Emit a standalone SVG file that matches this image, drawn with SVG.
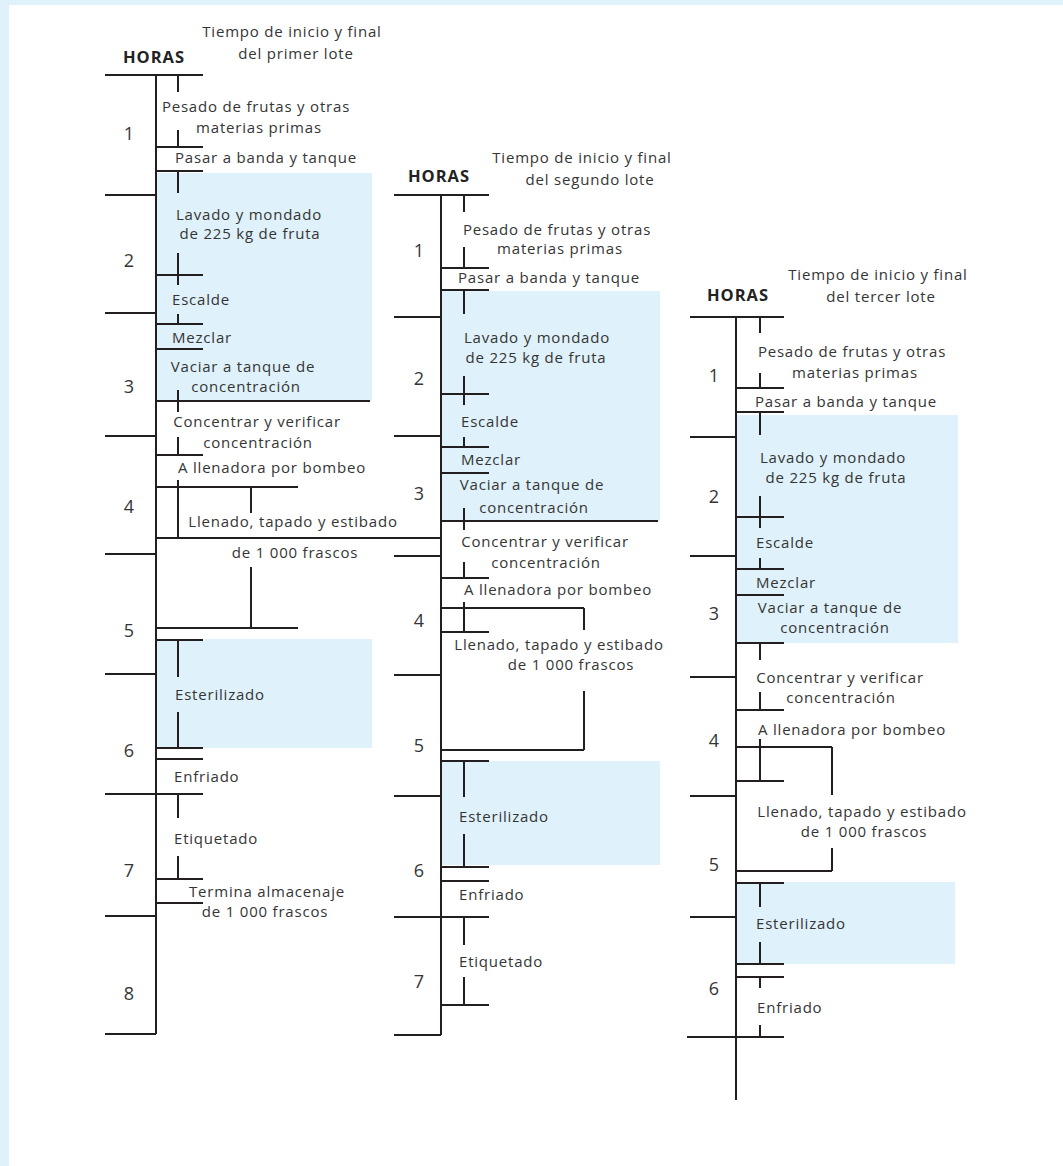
<svg xmlns="http://www.w3.org/2000/svg" width="1063" height="1166" viewBox="0 0 1063 1166">
<style>
.ln{stroke:#231f20;stroke-width:2;fill:none}
.bx{fill:#dff1fa}
text{font-family:"Open Sans","Noto Sans",sans-serif;fill:#353535;font-size:15px;letter-spacing:0.8px}
.c{text-anchor:middle}
.h{font-weight:bold;font-size:16.5px;letter-spacing:1px;fill:#222;text-anchor:middle}
.n{font-size:18px;letter-spacing:0;text-anchor:middle}
</style>
<rect x="0" y="0" width="1063" height="1166" fill="#ffffff"/>
<rect x="0" y="0" width="1063" height="5" class="bx"/>
<rect x="0" y="0" width="9" height="1166" class="bx"/>
<g id="shading">
<rect class="bx" x="156" y="173" width="216" height="228"/>
<rect class="bx" x="156" y="639" width="216" height="109"/>
<rect class="bx" x="441" y="291" width="219" height="230"/>
<rect class="bx" x="441" y="761" width="219" height="104"/>
<rect class="bx" x="736" y="415" width="222" height="228"/>
<rect class="bx" x="736" y="882" width="219" height="82"/>
</g>
<g id="connectors" class="ln">
<path d="M105 75H203M156 75V1034M105 1034H156"/>
<path d="M178 75V92M178 130V147M178 171V193M178 253V285M178 314V324M178 390V412M178 437V455M178 480V538M178 640V677M178 712V748M178 794V818M178 856V879"/>
<path d="M156 147H203M156 171H203M156 275H203M156 324H203M156 349H203M156 455H203M156 640H203M156 748H203M156 759H203M156 879H203M156 903H203"/>
<path d="M156 401H370M156 487H298M156 628H298M251 487V513M251 567V628M156 538H441"/>
<path d="M105 195H156M105 313H156M105 436H156M105 554H156M105 674H156M105 794H203M105 916H156"/>
<path d="M394 195H489M441 195V1035M394 1035H441"/>
<path d="M464 195V212M464 247V268M464 290V314M464 376V405M464 437V447M464 508V530M464 562V578M464 602V632M464 761V797M464 834V867M464 917V945M464 977V1005"/>
<path d="M441 268H489M441 290H489M441 394H489M441 447H489M441 473H489M441 578H489M441 632H489M441 761H489M441 867H489M441 881H489M441 1005H489"/>
<path d="M441 521H658M441 608H584M441 750H584M584 608V630M584 691V750"/>
<path d="M394 317H441M394 436H441M394 556H441M394 675H441M394 796H441M394 917H489"/>
<path d="M690 317H784M736 317V1100"/>
<path d="M760 317V333M760 373V388M760 412V435M760 496V528M760 558V569M760 643V660M760 692V710M760 739V781M760 883V907M760 942V964M760 977V988M760 1025V1037"/>
<path d="M736 388H784M736 412H784M736 517H784M736 569H784M736 595H784M736 643H784M736 710H784M736 781H784M736 883H784M736 964H784M736 977H784"/>
<path d="M736 747H832M736 871H832M832 747V795M832 848V871"/>
<path d="M690 437H736M690 556H736M690 677H736M690 796H736M690 917H736M687 1037H784"/>
</g>
<g id="lote1">
<g id="l1-title"><text class="c" x="292" y="37">Tiempo de inicio y final</text><text class="c" x="296" y="59">del primer lote</text><text class="h" x="154" y="63">HORAS</text></g>
<g id="l1-hours"><text class="n" x="129" y="140">1</text><text class="n" x="129" y="267">2</text><text class="n" x="129" y="393">3</text><text class="n" x="129" y="513">4</text><text class="n" x="129" y="637">5</text><text class="n" x="129" y="757">6</text><text class="n" x="129" y="877">7</text><text class="n" x="129" y="1000">8</text></g>
<g id="l1-pesado"><text class="c" x="256" y="112">Pesado de frutas y otras</text><text class="c" x="259" y="133">materias primas</text></g>
<g id="l1-pasar"><text class="c" x="266" y="163">Pasar a banda y tanque</text></g>
<g id="l1-lavado"><text class="c" x="249" y="220">Lavado y mondado</text><text class="c" x="250" y="239">de 225 kg de fruta</text></g>
<g id="l1-escalde"><text x="172" y="305">Escalde</text></g>
<g id="l1-mezclar"><text x="172" y="343">Mezclar</text></g>
<g id="l1-vaciar"><text class="c" x="243" y="372">Vaciar a tanque de</text><text class="c" x="246" y="392">concentración</text></g>
<g id="l1-concentrar"><text class="c" x="257" y="427">Concentrar y verificar</text><text class="c" x="258" y="448">concentración</text></g>
<g id="l1-bombeo"><text class="c" x="272" y="473">A llenadora por bombeo</text></g>
<g id="l1-llenado"><text class="c" x="293" y="527">Llenado, tapado y estibado</text><text class="c" x="295" y="558">de 1 000 frascos</text></g>
<g id="l1-esterilizado"><text x="175" y="700">Esterilizado</text></g>
<g id="l1-enfriado"><text x="174" y="782">Enfriado</text></g>
<g id="l1-etiquetado"><text x="174" y="844">Etiquetado</text></g>
<g id="l1-almacenaje"><text class="c" x="267" y="897">Termina almacenaje</text><text class="c" x="265" y="917">de 1 000 frascos</text></g>
</g>
<g id="lote2">
<g id="l2-title"><text class="c" x="582" y="163">Tiempo de inicio y final</text><text class="c" x="590" y="185">del segundo lote</text><text class="h" x="439" y="182">HORAS</text></g>
<g id="l2-hours"><text class="n" x="419" y="257">1</text><text class="n" x="419" y="385">2</text><text class="n" x="419" y="500">3</text><text class="n" x="419" y="627">4</text><text class="n" x="419" y="752">5</text><text class="n" x="419" y="877">6</text><text class="n" x="419" y="988">7</text></g>
<g id="l2-pesado"><text class="c" x="557" y="235">Pesado de frutas y otras</text><text class="c" x="560" y="254">materias primas</text></g>
<g id="l2-pasar"><text class="c" x="549" y="283">Pasar a banda y tanque</text></g>
<g id="l2-lavado"><text class="c" x="537" y="343">Lavado y mondado</text><text class="c" x="536" y="363">de 225 kg de fruta</text></g>
<g id="l2-escalde"><text x="461" y="427">Escalde</text></g>
<g id="l2-mezclar"><text x="461" y="465">Mezclar</text></g>
<g id="l2-vaciar"><text class="c" x="532" y="490">Vaciar a tanque de</text><text class="c" x="534" y="513">concentración</text></g>
<g id="l2-concentrar"><text class="c" x="545" y="547">Concentrar y verificar</text><text class="c" x="546" y="568">concentración</text></g>
<g id="l2-bombeo"><text class="c" x="558" y="595">A llenadora por bombeo</text></g>
<g id="l2-llenado"><text class="c" x="559" y="650">Llenado, tapado y estibado</text><text class="c" x="571" y="670">de 1 000 frascos</text></g>
<g id="l2-esterilizado"><text x="459" y="822">Esterilizado</text></g>
<g id="l2-enfriado"><text x="459" y="900">Enfriado</text></g>
<g id="l2-etiquetado"><text x="459" y="967">Etiquetado</text></g>
</g>
<g id="lote3">
<g id="l3-title"><text class="c" x="878" y="280">Tiempo de inicio y final</text><text class="c" x="881" y="302">del tercer lote</text><text class="h" x="738" y="301">HORAS</text></g>
<g id="l3-hours"><text class="n" x="714" y="382">1</text><text class="n" x="714" y="503">2</text><text class="n" x="714" y="620">3</text><text class="n" x="714" y="747">4</text><text class="n" x="714" y="871">5</text><text class="n" x="714" y="995">6</text></g>
<g id="l3-pesado"><text class="c" x="852" y="357">Pesado de frutas y otras</text><text class="c" x="855" y="378">materias primas</text></g>
<g id="l3-pasar"><text class="c" x="846" y="407">Pasar a banda y tanque</text></g>
<g id="l3-lavado"><text class="c" x="833" y="463">Lavado y mondado</text><text class="c" x="836" y="483">de 225 kg de fruta</text></g>
<g id="l3-escalde"><text x="756" y="548">Escalde</text></g>
<g id="l3-mezclar"><text x="756" y="588">Mezclar</text></g>
<g id="l3-vaciar"><text class="c" x="830" y="613">Vaciar a tanque de</text><text class="c" x="835" y="633">concentración</text></g>
<g id="l3-concentrar"><text class="c" x="840" y="683">Concentrar y verificar</text><text class="c" x="841" y="703">concentración</text></g>
<g id="l3-bombeo"><text class="c" x="852" y="735">A llenadora por bombeo</text></g>
<g id="l3-llenado"><text class="c" x="862" y="817">Llenado, tapado y estibado</text><text class="c" x="864" y="837">de 1 000 frascos</text></g>
<g id="l3-esterilizado"><text x="756" y="929">Esterilizado</text></g>
<g id="l3-enfriado"><text x="757" y="1013">Enfriado</text></g>
</g>
</svg>
